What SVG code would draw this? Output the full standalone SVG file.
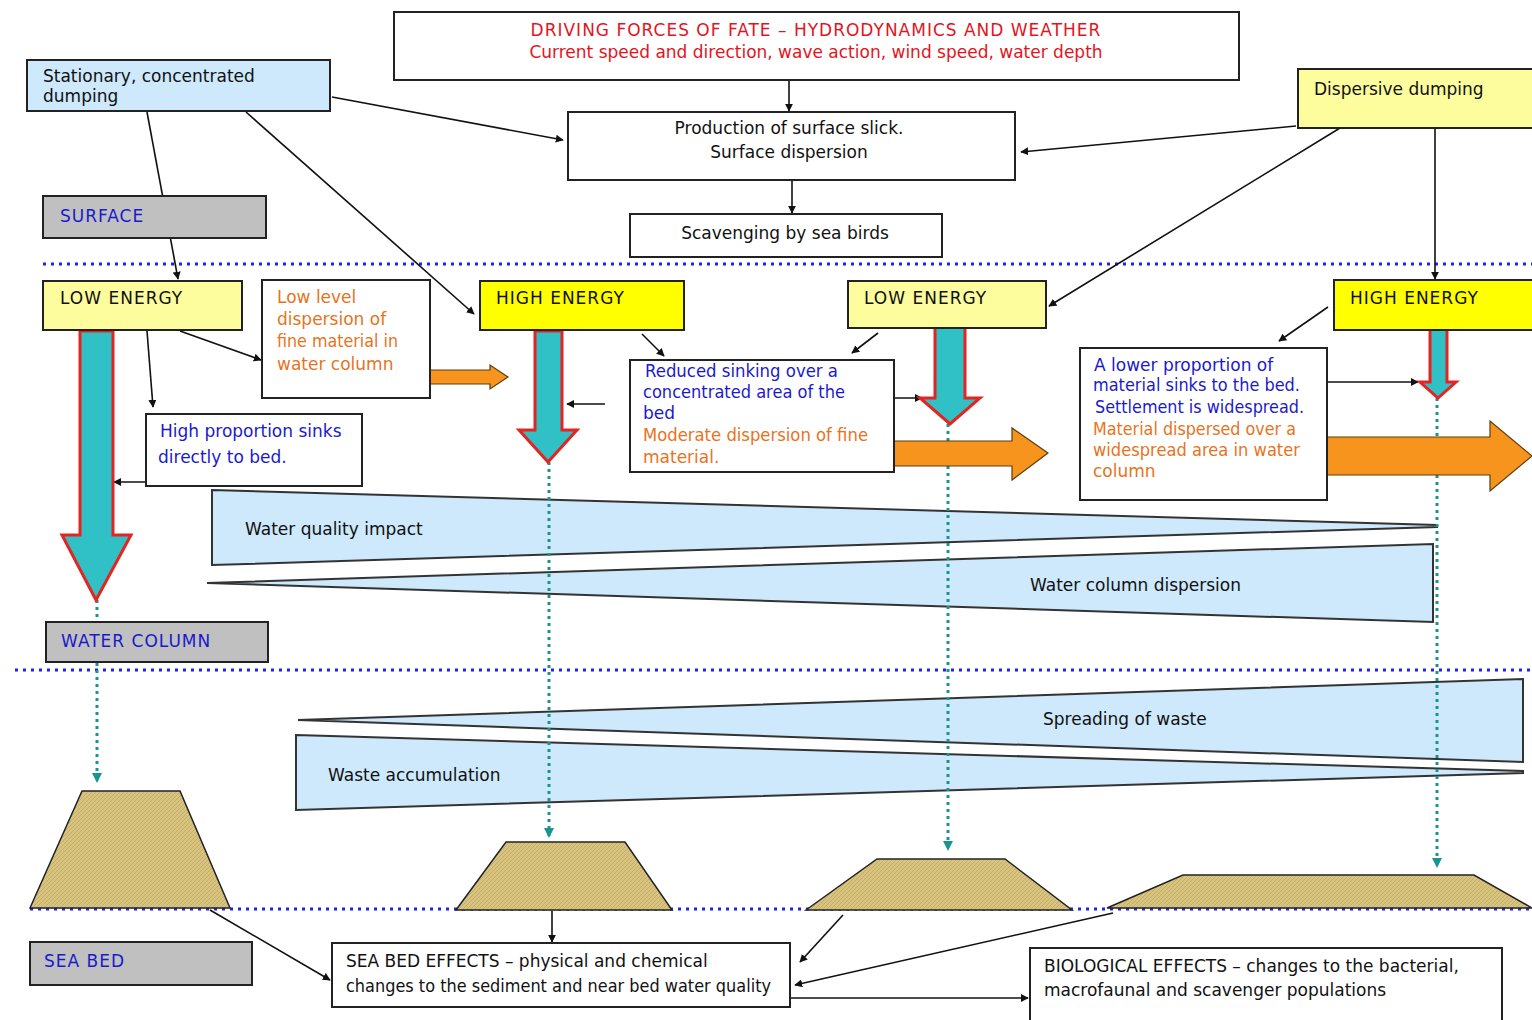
<svg xmlns="http://www.w3.org/2000/svg" width="1532" height="1020" viewBox="0 0 1532 1020">
<style>
text{font-family:"DejaVu Sans","Liberation Sans",sans-serif;font-size:17px;fill:#111}
.box{fill:#fff;stroke:#222;stroke-width:2}
.lblue{fill:#cde9fb;stroke:#222;stroke-width:2}
.lyel{fill:#fdfd9e;stroke:#222;stroke-width:2}
.byel{fill:#ffff00;stroke:#222;stroke-width:2}
.gray{fill:#c0c0c0;stroke:#222;stroke-width:2}
.wedge{fill:#cde9fb;stroke:#333;stroke-width:2}
.trap{fill:url(#hatch);stroke:#222;stroke-width:1.5}
.teal{fill:#2fc1c6;stroke:#e52421;stroke-width:3}
.orange{fill:#f7941d;stroke:#5a3d10;stroke-width:1.2}
.red{fill:#e3141e}
.blue{fill:#1a1acc}
.org{fill:#e8731c}
.sect{fill:#1a1acc;letter-spacing:1px}
.cap{letter-spacing:1px}
.bdot{stroke:#2323dd;stroke-width:3;stroke-dasharray:3 5;fill:none}
.tdot{stroke:#1a948f;stroke-width:3;stroke-dasharray:3 4;fill:none}
.conn{stroke:#111;stroke-width:1.6;fill:none}
</style>
<defs>
<marker id="ah" viewBox="0 0 10 10" refX="9" refY="5" markerWidth="8" markerHeight="8" markerUnits="userSpaceOnUse" orient="auto"><path d="M0,0 L10,5 L0,10 z" fill="#111"/></marker>
<marker id="th" viewBox="0 0 10 10" refX="9" refY="5" markerWidth="10" markerHeight="10" markerUnits="userSpaceOnUse" orient="auto"><path d="M0,0 L10,5 L0,10 z" fill="#1a948f"/></marker>
<pattern id="hatch" width="4" height="4" patternUnits="userSpaceOnUse"><rect width="4" height="4" fill="#d8c47e"/><path d="M0,4 L4,0" stroke="#b9a45e" stroke-width="0.7"/></pattern>
</defs>
<rect width="1532" height="1020" fill="#fff"/>

<!-- section dotted lines -->
<g id="layers">
<line class="bdot" x1="43" y1="264" x2="1532" y2="264"/>
<line class="bdot" x1="15" y1="670" x2="1532" y2="670"/>
<line class="bdot" x1="30" y1="909" x2="1532" y2="909"/>
</g>

<!-- wedges -->
<g id="wedge-water-quality"><polygon class="wedge" points="212,490 1437,525 1437,527 212,565"/><text x="245" y="535">Water quality impact</text></g>
<g id="wedge-water-column"><polygon class="wedge" points="207,583 1433,544 1433,622"/><text x="1030" y="591">Water column dispersion</text></g>
<g id="wedge-spreading"><polygon class="wedge" points="298,720 1523,679 1523,762"/><text x="1043" y="725">Spreading of waste</text></g>
<g id="wedge-accumulation"><polygon class="wedge" points="296,735 1523,771 1523,773 296,810"/><text x="328" y="781">Waste accumulation</text></g>

<!-- trapezoids -->
<g id="mound-1"><polygon class="trap" points="30,908 82,791 180,791 230,908"/></g>
<g id="mound-2"><polygon class="trap" points="456,910 506,842 625,842 672,910"/></g>
<g id="mound-3"><polygon class="trap" points="806,910 877,859 1005,859 1072,910"/></g>
<g id="mound-4"><polygon class="trap" points="1107,908 1183,875 1474,875 1532,908"/></g>

<!-- connectors -->
<g id="connectors">
<line class="conn" x1="789" y1="80" x2="789" y2="111" marker-end="url(#ah)"/>
<line class="conn" x1="792" y1="180" x2="792" y2="213" marker-end="url(#ah)"/>
<line class="conn" x1="332" y1="97" x2="563" y2="140" marker-end="url(#ah)"/>
<line class="conn" x1="1296" y1="126" x2="1021" y2="152" marker-end="url(#ah)"/>
<line class="conn" x1="147" y1="112" x2="178" y2="279" marker-end="url(#ah)"/>
<line class="conn" x1="246" y1="112" x2="474" y2="314" marker-end="url(#ah)"/>
<line class="conn" x1="1340" y1="128" x2="1049" y2="306" marker-end="url(#ah)"/>
<line class="conn" x1="1435" y1="128" x2="1435" y2="279" marker-end="url(#ah)"/>
<line class="conn" x1="180" y1="331" x2="261" y2="360" marker-end="url(#ah)"/>
<line class="conn" x1="147" y1="331" x2="153" y2="407" marker-end="url(#ah)"/>
<line class="conn" x1="207" y1="482" x2="114" y2="482" marker-end="url(#ah)"/>
<line class="conn" x1="642" y1="334" x2="664" y2="356" marker-end="url(#ah)"/>
<line class="conn" x1="878" y1="333" x2="852" y2="353" marker-end="url(#ah)"/>
<line class="conn" x1="605" y1="404" x2="567" y2="404" marker-end="url(#ah)"/>
<line class="conn" x1="870" y1="398" x2="922" y2="398" marker-end="url(#ah)"/>
<line class="conn" x1="1328" y1="307" x2="1279" y2="341" marker-end="url(#ah)"/>
<line class="conn" x1="1328" y1="382" x2="1418" y2="382" marker-end="url(#ah)"/>
<line class="conn" x1="210" y1="910" x2="330" y2="980" marker-end="url(#ah)"/>
<line class="conn" x1="552" y1="911" x2="552" y2="942" marker-end="url(#ah)"/>
<line class="conn" x1="843" y1="915" x2="800" y2="962" marker-end="url(#ah)"/>
<line class="conn" x1="1113" y1="913" x2="795" y2="985" marker-end="url(#ah)"/>
<line class="conn" x1="790" y1="998" x2="1028" y2="998" marker-end="url(#ah)"/>
<line class="tdot" x1="97" y1="600" x2="97" y2="782" marker-end="url(#th)"/>
<line class="tdot" x1="549" y1="462" x2="549" y2="837" marker-end="url(#th)"/>
<line class="tdot" x1="948" y1="424" x2="948" y2="850" marker-end="url(#th)"/>
<line class="tdot" x1="1437" y1="398" x2="1437" y2="867" marker-end="url(#th)"/>
</g>

<!-- flow arrows -->
<g id="sink-arrow-1"><polygon class="teal" points="80,331 113,331 113,535 131,535 96,600 62,535 80,535"/></g>
<g id="sink-arrow-2"><polygon class="teal" points="535,331 562,331 562,430 577,430 548,462 519,430 535,430"/></g>
<g id="sink-arrow-3"><polygon class="teal" points="935,326 965,326 965,398 980,398 950,424 920,398 935,398"/></g>
<g id="sink-arrow-4"><polygon class="teal" points="1430,328 1447,328 1447,382 1456,382 1438,398 1420,382 1430,382"/></g>
<g id="disp-arrow-1"><polygon class="orange" points="430,370 490,370 490,365 508,377 490,389 490,384 430,384"/></g>
<g id="disp-arrow-2"><polygon class="orange" points="894,441 1012,441 1012,428 1048,453 1012,480 1012,466 894,466"/></g>
<g id="disp-arrow-3"><polygon class="orange" points="1327,437 1490,437 1490,421 1532,456 1490,491 1490,475 1327,475"/></g>

<!-- nodes -->
<g id="driving-forces"><rect class="box" x="394" y="12" width="845" height="68"/>
<text class="red cap" x="816" y="36" text-anchor="middle">DRIVING FORCES OF FATE – HYDRODYNAMICS AND WEATHER</text>
<text class="red" x="816" y="58" text-anchor="middle">Current speed and direction, wave action, wind speed, water depth</text></g>
<g id="stationary"><rect class="lblue" x="27" y="60" width="303" height="51"/>
<text x="43" y="82">Stationary, concentrated</text><text x="43" y="102">dumping</text></g>
<g id="production"><rect class="box" x="568" y="112" width="447" height="68"/>
<text x="789" y="134" text-anchor="middle">Production of surface slick.</text><text x="789" y="158" text-anchor="middle">Surface dispersion</text></g>
<g id="scavenging"><rect class="box" x="630" y="214" width="312" height="43"/><text x="785" y="239" text-anchor="middle">Scavenging by sea birds</text></g>
<g id="dispersive"><rect class="lyel" x="1298" y="69" width="240" height="59"/><text x="1314" y="95">Dispersive dumping</text></g>
<g id="surface"><rect class="gray" x="43" y="196" width="223" height="42"/><text class="sect" x="60" y="222">SURFACE</text></g>
<g id="low-energy-1"><rect class="lyel" x="43" y="281" width="199" height="49"/><text class="cap" x="60" y="304">LOW ENERGY</text></g>
<g id="low-level"><rect class="box" x="262" y="280" width="168" height="118"/>
<text class="org" x="277" y="303">Low level</text><text class="org" x="277" y="325">dispersion of</text><text class="org" x="277" y="347" textLength="121" lengthAdjust="spacingAndGlyphs">fine material in</text><text class="org" x="277" y="370">water column</text></g>
<g id="high-energy-1"><rect class="byel" x="480" y="281" width="204" height="49"/><text class="cap" x="496" y="304">HIGH ENERGY</text></g>
<g id="low-energy-2"><rect class="lyel" x="848" y="281" width="198" height="47"/><text class="cap" x="864" y="304">LOW ENERGY</text></g>
<g id="high-energy-2"><rect class="byel" x="1334" y="280" width="204" height="50"/><text class="cap" x="1350" y="304">HIGH ENERGY</text></g>
<g id="high-proportion"><rect class="box" x="146" y="414" width="216" height="72"/>
<text class="blue" x="160" y="437">High proportion sinks</text><text class="blue" x="158" y="463">directly to bed.</text></g>
<g id="reduced-sinking"><rect class="box" x="630" y="360" width="264" height="112"/>
<text class="blue" x="645" y="377" textLength="193" lengthAdjust="spacingAndGlyphs">Reduced sinking over a</text><text class="blue" x="643" y="398" textLength="202" lengthAdjust="spacingAndGlyphs">concentrated area of the</text><text class="blue" x="643" y="419">bed</text>
<text class="org" x="643" y="441" textLength="225" lengthAdjust="spacingAndGlyphs">Moderate dispersion of fine</text><text class="org" x="643" y="463">material.</text></g>
<g id="lower-proportion"><rect class="box" x="1080" y="348" width="247" height="152"/>
<text class="blue" x="1094" y="371">A lower proportion of</text><text class="blue" x="1093" y="391" textLength="207" lengthAdjust="spacingAndGlyphs">material sinks to the bed.</text><text class="blue" x="1095" y="413" textLength="209" lengthAdjust="spacingAndGlyphs">Settlement is widespread.</text>
<text class="org" x="1093" y="435" textLength="203" lengthAdjust="spacingAndGlyphs">Material dispersed over a</text><text class="org" x="1093" y="456" textLength="207" lengthAdjust="spacingAndGlyphs">widespread area in water</text><text class="org" x="1093" y="477">column</text></g>
<g id="water-column"><rect class="gray" x="46" y="622" width="222" height="40"/><text class="sect" x="61" y="647">WATER COLUMN</text></g>
<g id="sea-bed"><rect class="gray" x="30" y="942" width="222" height="43"/><text class="sect" x="44" y="967">SEA BED</text></g>
<g id="sea-bed-effects"><rect class="box" x="332" y="943" width="458" height="64"/>
<text x="346" y="967">SEA BED EFFECTS – physical and chemical</text><text x="346" y="992" textLength="425" lengthAdjust="spacingAndGlyphs">changes to the sediment and near bed water quality</text></g>
<g id="biological-effects"><rect class="box" x="1030" y="948" width="472" height="80"/>
<text x="1044" y="972">BIOLOGICAL EFFECTS – changes to the bacterial,</text><text x="1044" y="996">macrofaunal and scavenger populations</text></g>
</svg>
